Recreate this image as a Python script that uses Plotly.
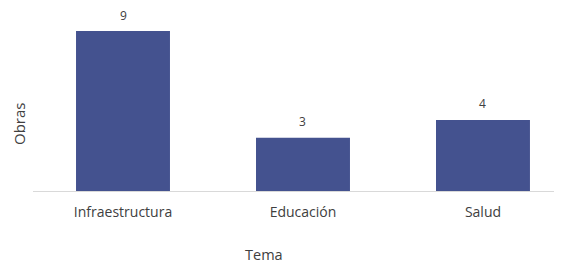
import plotly.graph_objects as go

categories = ["Infraestructura", "Educación", "Salud"]
values = [9, 3, 4]
x_title = "Tema"
y_title = "Obras"

bar_color = "#44528F"
text_color = "#404040"
font_family = "Open Sans, Liberation Sans, sans-serif"

# page body has an 8px margin; figure sized to fit the remaining window
fig = go.Figure(go.Bar(
    x=categories, y=values, marker=dict(color=bar_color, line=dict(width=0)),
    width=0.522,
))

for c, v in zip(categories, values):
    fig.add_annotation(x=c, y=v, text=str(v), showarrow=False, yshift=16,
                       font=dict(size=12, color=text_color, family=font_family))

fig.add_annotation(xref="paper", yref="paper", x=(264 - 33) / 529, y=0,
                   yshift=-75, text=x_title, showarrow=False,
                   font=dict(size=14.5, color=text_color, family=font_family))
fig.add_annotation(xref="paper", yref="paper", x=0, y=(191 - 124) / 171,
                   xshift=-26, text=y_title, showarrow=False, textangle=-90,
                   font=dict(size=15, color=text_color, family=font_family))

fig.update_layout(
    width=554, height=259,
    margin=dict(l=25, r=0, t=12, b=76),
    paper_bgcolor="white", plot_bgcolor="white",
    showlegend=False,
    font=dict(family=font_family, color=text_color, size=13),
    xaxis=dict(range=[-0.5, 2.439], showgrid=False, showline=True, linecolor="#d9d9d9",
               linewidth=1, ticks="", ticklabelstandoff=8,
               tickfont=dict(size=14, color=text_color)),
    yaxis=dict(range=[0, 9.62], showgrid=False, zeroline=False, showticklabels=False,
               showline=False),
)

fig.write_html("out.html")
